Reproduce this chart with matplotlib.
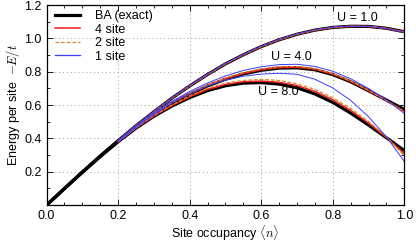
import matplotlib
matplotlib.use('Agg')
import matplotlib.pyplot as plt
from matplotlib.ticker import MultipleLocator

plt.rcParams['font.family'] = ['Liberation Sans', 'DejaVu Sans']
plt.rcParams['mathtext.fontset'] = 'cm'

# site occupancy grids
n_exact = [0.00, 0.05, 0.10, 0.15, 0.20, 0.25, 0.30, 0.35, 0.40, 0.45, 0.50,
           0.55, 0.60, 0.65, 0.70, 0.75, 0.80, 0.85, 0.90, 0.95, 1.00]
n_approx = [0.20, 0.25, 0.30, 0.35, 0.40, 0.45, 0.50, 0.55, 0.60,
            0.65, 0.70, 0.75, 0.80, 0.85, 0.90, 0.95, 1.00]

# Bethe ansatz (exact) energies per site, -E/t
ba_u1 = [0.000, 0.099, 0.198, 0.294, 0.386, 0.476, 0.560, 0.641, 0.715, 0.784, 0.847,
         0.902, 0.951, 0.992, 1.025, 1.050, 1.066, 1.073, 1.072, 1.061, 1.040]
ba_u4 = [0.000, 0.100, 0.198, 0.294, 0.385, 0.470, 0.546, 0.612, 0.665, 0.715, 0.755,
         0.787, 0.809, 0.822, 0.824, 0.812, 0.783, 0.740, 0.686, 0.630, 0.574]
ba_u8 = [0.000, 0.099, 0.197, 0.291, 0.380, 0.462, 0.533, 0.594, 0.645, 0.687, 0.716,
         0.732, 0.735, 0.726, 0.704, 0.667, 0.616, 0.552, 0.480, 0.404, 0.327]

# cluster approximations (from n = 0.2)
s4_u1 = [0.386, 0.476, 0.560, 0.641, 0.715, 0.784, 0.847, 0.902, 0.951,
         0.992, 1.025, 1.050, 1.066, 1.073, 1.072, 1.061, 1.040]
s2_u1 = [0.386, 0.476, 0.560, 0.641, 0.715, 0.784, 0.847, 0.902, 0.951,
         0.992, 1.025, 1.050, 1.066, 1.073, 1.072, 1.060, 1.039]
s1_u1 = [0.387, 0.477, 0.562, 0.643, 0.717, 0.786, 0.849, 0.904, 0.953,
         0.994, 1.027, 1.052, 1.068, 1.074, 1.072, 1.060, 1.037]

s4_u4 = [0.385, 0.471, 0.548, 0.614, 0.667, 0.717, 0.758, 0.790, 0.812,
         0.825, 0.827, 0.815, 0.786, 0.742, 0.687, 0.628, 0.562]
s2_u4 = [0.386, 0.472, 0.550, 0.617, 0.671, 0.722, 0.763, 0.796, 0.818,
         0.831, 0.832, 0.819, 0.789, 0.744, 0.688, 0.627, 0.560]
s1_u4 = [0.387, 0.474, 0.553, 0.622, 0.682, 0.733, 0.775, 0.808, 0.830,
         0.843, 0.845, 0.832, 0.803, 0.758, 0.700, 0.630, 0.550]

s4_u8 = [0.380, 0.463, 0.535, 0.597, 0.650, 0.694, 0.724, 0.740, 0.744,
         0.737, 0.717, 0.682, 0.632, 0.568, 0.492, 0.406, 0.308]
s2_u8 = [0.381, 0.464, 0.537, 0.600, 0.655, 0.701, 0.732, 0.748, 0.754,
         0.748, 0.728, 0.694, 0.644, 0.580, 0.502, 0.410, 0.295]
s1_u8 = [0.381, 0.466, 0.543, 0.612, 0.669, 0.715, 0.750, 0.773, 0.786,
         0.791, 0.785, 0.755, 0.703, 0.628, 0.530, 0.409, 0.262]

u_labels = ['U = 1.0', 'U = 4.0', 'U = 8.0']
label_pos = [(0.87, 1.12), (0.683, 0.888), (0.647, 0.678)]

x_ticks = [0.0, 0.2, 0.4, 0.6, 0.8, 1.0]
y_ticks = [0.2, 0.4, 0.6, 0.8, 1.0, 1.2]

fig = plt.figure(figsize=(4.16, 2.43), dpi=100)
ax = fig.add_axes([0.112, 0.156, 0.86, 0.823])

black, red, orange, blue = 'black', '#ee1c1c', '#d98a2b', '#3b3bff'

for ba in [ba_u1, ba_u4, ba_u8]:
    ax.plot(n_exact, ba, color=black, lw=2.3, solid_capstyle='butt')
for s4 in [s4_u1, s4_u4, s4_u8]:
    ax.plot(n_approx, s4, color=red, lw=1.1)
for s2 in [s2_u1, s2_u4, s2_u8]:
    ax.plot(n_approx, s2, color=orange, lw=0.9, ls=(0, (3, 1.5)))
for s1 in [s1_u1, s1_u4, s1_u8]:
    ax.plot(n_approx, s1, color=blue, lw=0.7)

# legend handles
h1, = ax.plot([], [], color=black, lw=2.3)
h2, = ax.plot([], [], color=red, lw=1.1)
h3, = ax.plot([], [], color=orange, lw=0.9, ls=(0, (3, 1.5)))
h4, = ax.plot([], [], color=blue, lw=0.9)
ax.legend([h1, h2, h3, h4], ['BA (exact)', '4 site', '2 site', '1 site'],
          loc='upper left', frameon=False, fontsize=9,
          handlelength=2.0, handletextpad=1.2, labelspacing=0.12,
          borderaxespad=0.0, bbox_to_anchor=(0.01, 1.0))

for txt, (x, y) in zip(u_labels, label_pos):
    ax.text(x, y, txt, fontsize=9, ha='center', va='center')

ax.set_xlim(0, 1)
ax.set_ylim(0, 1.2)
ax.set_xticks(x_ticks)
ax.set_yticks(y_ticks)
ax.xaxis.set_minor_locator(MultipleLocator(0.05))
ax.yaxis.set_minor_locator(MultipleLocator(0.1))
ax.tick_params(which='both', direction='in', top=True, right=True, labelsize=9)
ax.tick_params(which='major', length=4, width=0.6)
ax.tick_params(which='minor', length=2, width=0.6)
ax.grid(True, which='major', ls=(0, (1, 3)), color='#999999', lw=0.7)
for sp in ax.spines.values():
    sp.set_linewidth(0.9)

ax.set_xlabel(r'Site occupancy $\langle n\rangle$', fontsize=9, labelpad=1)
ax.set_ylabel(r'Energy per site  $-E/t$', fontsize=9, labelpad=2)

fig.savefig('out.png', dpi=100)
